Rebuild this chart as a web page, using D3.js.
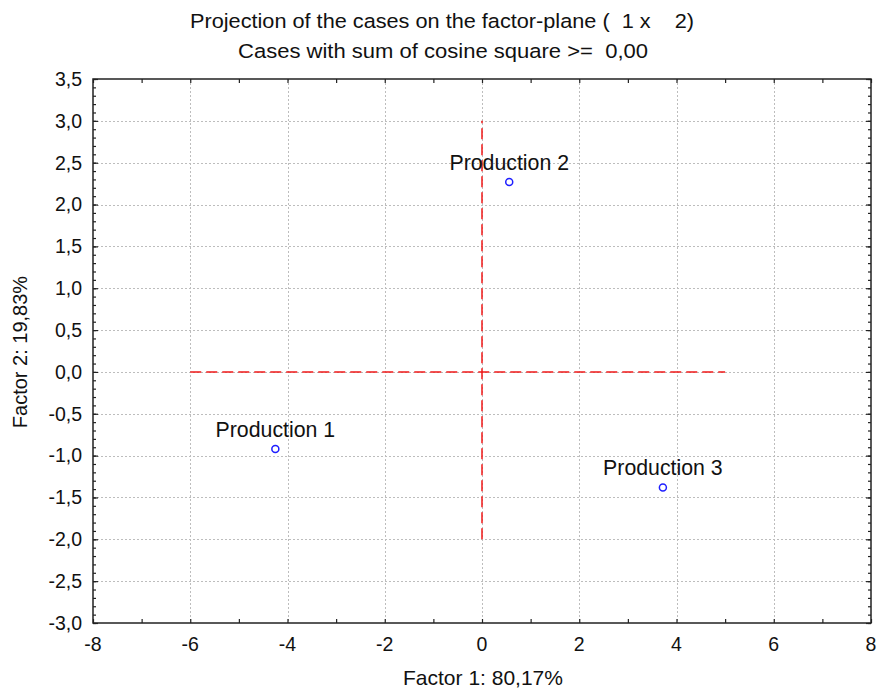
<!DOCTYPE html>
<html>
<head>
<meta charset="utf-8">
<script src="https://cdn.jsdelivr.net/npm/d3@7"></script>
<style>
  html, body { margin: 0; padding: 0; background: #fff; }
  svg { display: block; font-family: "Liberation Sans", Arial, sans-serif; }
  text { white-space: pre; }
</style>
</head>
<body>
<svg id="chart" width="879" height="690"></svg>
<script>
// Case coordinates on the first factor plane
const caseNames = ["Production 1", "Production 2", "Production 3"];
const factor1 = [-4.25, 0.56, 3.72];
const factor2 = [-0.92, 2.27, -1.38];

// Axis ticks
const xTicks = [-8, -6, -4, -2, 0, 2, 4, 6, 8];
const yTicks = [-3.0, -2.5, -2.0, -1.5, -1.0, -0.5, 0.0, 0.5, 1.0, 1.5, 2.0, 2.5, 3.0, 3.5];

// Reference axes drawn through the origin
const hAxisExtent = [-6, 5];
const vAxisExtent = [-2, 3];

const titleLines = [
  "Projection of the cases on the factor-plane (  1 x    2)",
  "Cases with sum of cosine square >=  0,00"
];
const xLabel = "Factor 1: 80,17%";
const yLabel = "Factor 2: 19,83%";

const svg = d3.select("#chart");
const plot = { left: 93, right: 871, top: 79, bottom: 623 };

const x = d3.scaleLinear().domain([-8, 8]).range([plot.left, plot.right]);
const y = d3.scaleLinear().domain([-3.0, 3.5]).range([plot.bottom, plot.top]);

const fmtY = v => d3.format(".1f")(v).replace(".", ",").replace("−", "-");
const fmtX = v => d3.format("d")(v).replace("−", "-");

// Titles
svg.append("text")
  .attr("x", 442).attr("y", 28)
  .attr("text-anchor", "middle")
  .attr("font-size", 20.5)
  .attr("textLength", 504).attr("lengthAdjust", "spacingAndGlyphs")
  .attr("fill", "#111")
  .text(titleLines[0]);
svg.append("text")
  .attr("x", 443).attr("y", 58)
  .attr("text-anchor", "middle")
  .attr("font-size", 20.5)
  .attr("textLength", 410).attr("lengthAdjust", "spacingAndGlyphs")
  .attr("fill", "#111")
  .text(titleLines[1]);

// Grid lines
const grid = svg.append("g").attr("stroke", "#bdbdbd").attr("stroke-width", 1)
  .attr("stroke-dasharray", "2,2");
grid.selectAll("line.gx")
  .data(xTicks.filter(v => v > -8 && v < 8))
  .join("line")
  .attr("x1", d => Math.round(x(d)) + 0.5).attr("x2", d => Math.round(x(d)) + 0.5)
  .attr("y1", plot.top).attr("y2", plot.bottom);
grid.selectAll("line.gy")
  .data(yTicks.filter(v => v > -3 && v < 3.5))
  .join("line")
  .attr("y1", d => Math.round(y(d)) + 0.5).attr("y2", d => Math.round(y(d)) + 0.5)
  .attr("x1", plot.left).attr("x2", plot.right);

// Axes with inward ticks
const minorX = d3.range(-8, 8.01, 1);
const minorY = d3.range(-30, 36, 1).map(v => v / 10);

function drawAxis(axisGen, transform) {
  const g = svg.append("g").attr("transform", transform).call(axisGen);
  g.select(".domain").remove();
  g.selectAll("line").attr("stroke", "#222").attr("stroke-width", 1.2);
  return g;
}

// left
drawAxis(d3.axisRight(y).tickValues(minorY).tickSize(3).tickFormat(""),
  `translate(${plot.left},0)`);
drawAxis(d3.axisRight(y).tickValues(yTicks).tickSize(5).tickFormat(""),
  `translate(${plot.left},0)`);
// right
drawAxis(d3.axisLeft(y).tickValues(minorY).tickSize(3).tickFormat(""),
  `translate(${plot.right},0)`);
drawAxis(d3.axisLeft(y).tickValues(yTicks).tickSize(5).tickFormat(""),
  `translate(${plot.right},0)`);
// bottom
drawAxis(d3.axisTop(x).tickValues(minorX).tickSize(4).tickFormat(""),
  `translate(0,${plot.bottom})`);
// top
drawAxis(d3.axisBottom(x).tickValues(minorX).tickSize(4).tickFormat(""),
  `translate(0,${plot.top})`);

// Tick labels
svg.append("g").selectAll("text")
  .data(yTicks)
  .join("text")
  .attr("x", 82).attr("y", d => y(d))
  .attr("dy", "0.35em")
  .attr("text-anchor", "end")
  .attr("font-size", 19.5)
  .attr("fill", "#111")
  .text(fmtY);
svg.append("g").selectAll("text")
  .data(xTicks)
  .join("text")
  .attr("x", d => x(d)).attr("y", 651)
  .attr("text-anchor", "middle")
  .attr("font-size", 19.5)
  .attr("fill", "#111")
  .text(fmtX);

// Frame
svg.append("rect")
  .attr("x", plot.left).attr("y", plot.top)
  .attr("width", plot.right - plot.left).attr("height", plot.bottom - plot.top)
  .attr("fill", "none").attr("stroke", "#222").attr("stroke-width", 1.5);

// Reference axes through the origin
const ref = svg.append("g").attr("stroke", "#f01818").attr("stroke-width", 1.5)
  .attr("stroke-dasharray", "11,5");
ref.append("line")
  .attr("x1", x(hAxisExtent[0])).attr("x2", x(hAxisExtent[1]))
  .attr("y1", y(0)).attr("y2", y(0));
ref.append("line")
  .attr("x1", x(0)).attr("x2", x(0))
  .attr("y1", y(vAxisExtent[0])).attr("y2", y(vAxisExtent[1]));

// Cases
const cases = caseNames.map((name, i) => ({ name, f1: factor1[i], f2: factor2[i] }));
const pts = svg.append("g").selectAll("g").data(cases).join("g");
pts.append("circle")
  .attr("cx", d => x(d.f1)).attr("cy", d => y(d.f2))
  .attr("r", 3.5)
  .attr("fill", "#fff").attr("stroke", "#1f1fff").attr("stroke-width", 1.5);
pts.append("text")
  .attr("x", d => x(d.f1)).attr("y", d => y(d.f2) - 12)
  .attr("text-anchor", "middle")
  .attr("font-size", 21.3)
  .attr("fill", "#111")
  .text(d => d.name);

// Axis titles
svg.append("text")
  .attr("x", 483).attr("y", 685)
  .attr("text-anchor", "middle")
  .attr("font-size", 21)
  .attr("fill", "#111")
  .text(xLabel);
svg.append("text")
  .attr("transform", "translate(27,352) rotate(-90)")
  .attr("text-anchor", "middle")
  .attr("font-size", 20)
  .attr("fill", "#111")
  .text(yLabel);
</script>
</body>
</html>
